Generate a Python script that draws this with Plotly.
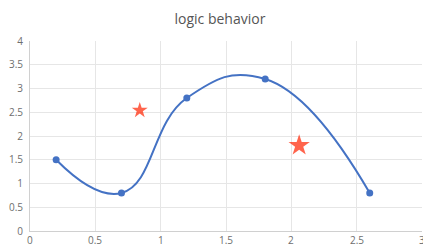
import plotly.graph_objects as go

line_x = [0.2, 0.7, 1.2, 1.8, 2.6]
line_y = [1.5, 0.8, 2.8, 3.2, 0.8]
star_x = [0.84, 2.06]
star_y = [2.54, 1.8]
star_size = [12, 16]
x_ticks = [0, 0.5, 1, 1.5, 2, 2.5, 3]
x_tick_labels = ["0", "0.5", "1", "1.5", "2", "2.5", "3"]
y_ticks = [0, 0.5, 1, 1.5, 2, 2.5, 3, 3.5, 4]
y_tick_labels = ["0", "0.5", "1", "1.5", "2", "2.5", "3", "3.5", "4"]

label_color = "#6e6e6e"

fig = go.Figure()
fig.add_trace(go.Scatter(
    x=line_x, y=line_y, mode="lines+markers",
    line=dict(color="#4472c4", width=2, shape="spline", smoothing=1.3),
    marker=dict(color="#4472c4", size=7),
    showlegend=False, hoverinfo="skip"))
fig.add_trace(go.Scatter(
    x=star_x, y=star_y, mode="markers",
    marker=dict(symbol="star", color="#ff2200", size=star_size, line=dict(width=0)),
    showlegend=False, hoverinfo="skip"))

# x tick labels placed under the axis through the x scale
for v, t in zip(x_ticks, x_tick_labels):
    fig.add_annotation(x=v, y=0, xref="x", yref="paper", text=t, showarrow=False,
                       yanchor="top", yshift=-1, borderpad=0,
                       font=dict(size=10, color=label_color))

fig.update_layout(
    width=423, height=246,
    margin=dict(l=30, r=1, t=41, b=15, autoexpand=False),
    paper_bgcolor="white", plot_bgcolor="white",
    font=dict(family="Open Sans, Roboto, sans-serif", size=10, color=label_color),
    title=dict(text="logic behavior", x=0.52, xanchor="center",
               y=1 - 19 / 246, yanchor="middle", yref="container",
               font=dict(size=14, color="#555555"), automargin=False),
    xaxis=dict(range=[0, 3], tickvals=x_ticks, showticklabels=False,
               showgrid=True, gridcolor="#e6e6e6", gridwidth=1,
               showline=True, linecolor="#d0d0d0", linewidth=1,
               zeroline=False, ticks="", automargin=False, fixedrange=True),
    yaxis=dict(range=[0, 4], tickvals=y_ticks, ticktext=y_tick_labels,
               showgrid=True, gridcolor="#e6e6e6", gridwidth=1,
               showline=True, linecolor="#d0d0d0", linewidth=1,
               zeroline=False, ticks="", ticklabelstandoff=4, automargin=False, fixedrange=True),
)
fig.write_html("out.html", config={"displayModeBar": False, "staticPlot": True},
               post_script="document.body.style.margin='0';document.body.style.padding='0';")
